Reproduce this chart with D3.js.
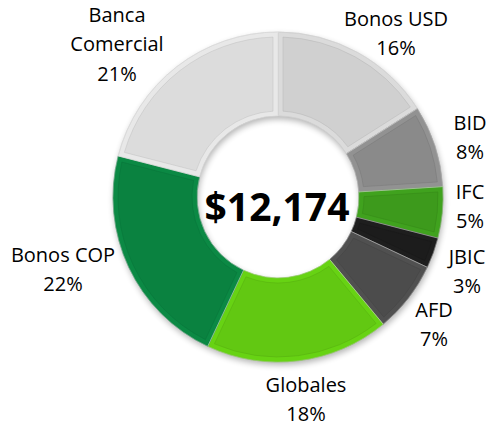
<!DOCTYPE html>
<html><head><meta charset="utf-8">
<script src="https://cdn.jsdelivr.net/npm/d3@7/dist/d3.min.js"></script>
<style>
html,body{margin:0;padding:0;background:#fff;}
svg{display:block;font-family:"Open Sans",sans-serif;}
</style></head>
<body>
<svg id="chart" width="487" height="426"></svg>
<script>
const categories = ["Bonos USD","BID","IFC","JBIC","AFD","Globales","Bonos COP","Banca Comercial"];
const values = [16, 8, 5, 3, 7, 18, 22, 21];
const labelLines = [["Bonos USD"],["BID"],["IFC"],["JBIC"],["AFD"],["Globales"],["Bonos COP"],["Banca","Comercial"]];
const colors = ["#d0d0d0","#8a8a8a","#3d9a1c","#1c1c1c","#4c4c4c","#62c812","#0a8240","#dcdcdc"];
const totalLabel = "$12,174";
// label anchor positions (x centre, first baseline), in px
const labelPos = [[396,26],[470,130],[470,199],[467,264],[434,317],[306,392],[63,262],[117,22]];

const svg = d3.select("#chart");
const cx = 278, cy = 197, R = 165, r = 81;

const defs = svg.append("defs");
const sh = defs.append("filter").attr("id","shadow").attr("x","-20%").attr("y","-20%").attr("width","140%").attr("height","140%");
sh.append("feGaussianBlur").attr("in","SourceAlpha").attr("stdDeviation",3);
sh.append("feOffset").attr("dx",1).attr("dy",3).attr("result","o");
sh.append("feComponentTransfer").append("feFuncA").attr("type","linear").attr("slope",0.3);

const data = categories.map((c,i)=>({cat:c, value:values[i], color:colors[i], lines:labelLines[i], pos:labelPos[i]}));
const pie = d3.pie().value(d=>d.value).sort(null);
const arc = d3.arc().innerRadius(r).outerRadius(R);
const bevelW = 5;
const insetArc = d3.arc().innerRadius(r+bevelW).outerRadius(R-bevelW).padRadius(R).padAngle(2*bevelW/R);
const arcs = pie(data);

const g = svg.append("g").attr("transform",`translate(${cx},${cy})`);
g.append("g").attr("filter","url(#shadow)").selectAll("path").data(arcs).join("path")
  .attr("d",arc).attr("fill","#000");
// outer bevel band (slightly lighter)
g.append("g").selectAll("path").data(arcs).join("path")
  .attr("d",arc).attr("fill",d=>d3.color(d.data.color).brighter(0.15).formatHex())
  .attr("stroke",d=>d3.color(d.data.color).darker(0.5).formatHex()).attr("stroke-width",0.6);
// flat face
g.append("g").selectAll("path").data(arcs).join("path")
  .attr("d",insetArc).attr("fill",d=>d.data.color)
  .attr("stroke",d=>d3.color(d.data.color).darker(0.5).formatHex()).attr("stroke-opacity",0.5).attr("stroke-width",0.8);
// thin light separators
g.append("g").selectAll("path").data(arcs).join("path")
  .attr("d",arc).attr("fill","none").attr("stroke","rgba(255,255,255,0.35)").attr("stroke-width",0.8);

svg.append("text").attr("x",cx-1).attr("y",cy+8).attr("text-anchor","middle").attr("dominant-baseline","central")
  .attr("font-size",39).attr("font-weight","bold").attr("fill","#000").text(totalLabel);

const lh = 29.3;
const lab = svg.append("g").attr("font-size",20).attr("fill","#000").attr("text-anchor","middle");
data.forEach(d=>{
  const t = lab.append("text").attr("x",d.pos[0]).attr("y",d.pos[1]);
  const lines = d.lines.concat([d.value+"%"]);
  lines.forEach((s,i)=>{
    t.append("tspan").attr("x",d.pos[0]).attr("y",d.pos[1]+i*lh).text(s);
  });
});
</script>
</body></html>
